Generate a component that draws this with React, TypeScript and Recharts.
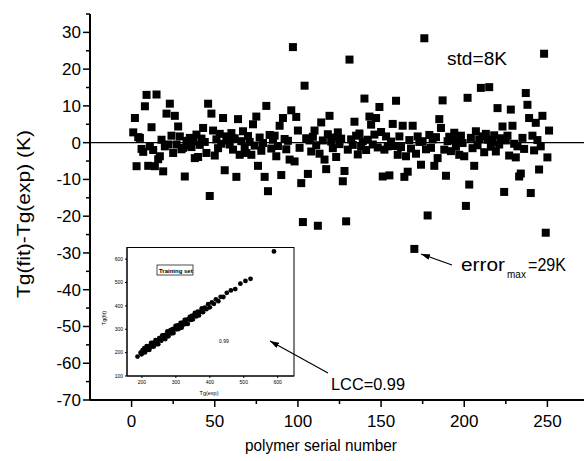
import { ScatterChart, Scatter, XAxis, YAxis, ReferenceLine } from 'recharts';

// deviation Tg(fit)-Tg(exp) in K, polymer serial 1..251
const deviations = [
  2.8, 6.7, -6.4, 1.5, 1.3, -1.7, -2.5, 9.9, 13, -6.3,
  -1, 4.2, -2, -6.4, 13.1, -4.5, -3.7, 0.8, -7.8, -1,
  7.9, -0.5, 10.6, 1.9, -2.8, 7.3, -0.5, 4.4, 1.7, -1.8,
  -1.4, -9.2, 0.5, -0.8, 1.3, -1.2, 0.3, -4.2, 2.2, -3.9,
  -0.6, 1.1, 4, 0.2, -2.8, 10.6, -14.5, 7.9, 3.3, -3.5,
  0.9, -1.5, 2.4, -0.3, 6.7, -7.5, 1.7, 0.6, -0.5, 2.6,
  -1.9, 1.2, -9.3, 6.4, -3.3, 0.4, 3.1, -1.3, -2.8, 1.8,
  0.2, -3.3, 5, -0.8, 7.1, -6.3, 1.4, -2.2, -0.1, -9.3,
  10, -13.2, 2.1, -1.6, 0.8, 1.9, -3.7, -0.9, 4.6, -8.8,
  6.7, 1, -1.8, 0.5, -4.6, 8.8, 26, -5.1, 7, 3.3,
  -1.4, -11, -21.6, 15.5, 1.2, -8.5, 0.6, -2.4, 1.6, 3.3,
  -0.7, -22.6, -3, 5.5, 0.6, -4.6, -7.2, 2.3, 7.3, 0.3,
  -1.5, 1.4, -3.9, 2.8, -0.4, 1.1, -10.5, -7.7, -21.4, -1.9,
  22.6, 0.9, -0.6, 5.7, 1.9, -3.2, 2.5, -1.1, 0.4, 12,
  -2, 0.8, 7.1, 4.9, -0.5, 2.2, 6.7, -1.3, 9.7, 2.9,
  -9.2, -1.9, 1.7, -1, -8.9, 0.3, 5.1, -0.9, 11.4, -3.3,
  1.7, -1.2, 4.6, -9.3, -3.7, -7.9, 0.7, -1.6, 4.6, -28.9,
  -3, 1.7, 0.2, -6, 0.4, 28.4, -1.8, -19.8, 2.1, -1.4,
  0.9, -6.3, 1.5, -4.2, 6.4, 4, 11.5, -1.9, -9, 0.4,
  1.6, -2.3, 0.8, 2.7, -1.1, 0.5, -3.3, 1.9, -0.1, -3.7,
  -17.2, 12.2, -11.4, 1.3, -1.5, -6.3, 3.1, -0.7, 0.9, 14.9,
  1.7, -2.6, 2.4, 0.8, 15.1, -1.1, 0.3, 2, -2.4, 9.4,
  -0.5, 1.2, 4.4, -13.4, 0.6, 1.9, -3.5, 9, 4.6, -0.3,
  -4, -1, -9.2, -8.4, 1.3, -1.7, 13.5, 10.3, 6.7, -13.7,
  1.9, -2.1, 5.4, 0.7, -7.3, -1, 7.3, 24.2, -24.5, -4,
  3.3,
];

const xTicks = [0, 25, 50, 75, 100, 125, 150, 175, 200, 225, 250];
const yTicks = [-70, -65, -60, -55, -50, -45, -40, -35, -30, -25, -20, -15, -10, -5, 0, 5, 10, 15, 20, 25, 30, 35];

// inset: training set Tg(exp) vs Tg(fit)
const insetExp = [
  187, 196, 199, 202, 204, 207, 209, 212, 214, 217,
  219, 222, 224, 227, 229, 232, 235, 237, 240, 243,
  245, 248, 251, 254, 257, 260, 263, 266, 269, 272,
  275, 278, 281, 284, 287, 290, 293, 296, 299, 302,
  305, 308, 311, 314, 317, 320, 323, 326, 329, 332,
  335, 338, 341, 344, 347, 350, 353, 356, 360, 364,
  368, 372, 376, 380, 385, 390, 395, 400, 406, 412,
  418, 425, 432, 440, 450, 462, 475, 490, 505, 520,
  589,
];
const insetFit = [
  183, 200, 193, 211, 202, 219, 201, 215, 228, 212,
  227, 212, 230, 242, 226, 242, 226, 241, 253, 236,
  252, 236, 262, 256, 251, 274, 259, 275, 258, 277,
  291, 270, 284, 296, 282, 300, 284, 303, 314, 300,
  316, 301, 315, 327, 307, 328, 320, 340, 323, 341,
  323, 343, 353, 340, 357, 342, 359, 370, 355, 375,
  359, 375, 389, 373, 393, 386, 407, 394, 415, 409,
  428, 420, 439, 438, 456, 466, 472, 495, 507, 516,
  633,
];
const insetXTicks = [200, 300, 400, 500, 600];
const insetYTicks = [100, 200, 300, 400, 500, 600];

const points = deviations.map((v, i) => ({ x: i + 1, y: v }));
const insetPoints = insetExp.map((v, i) => ({ x: v, y: insetFit[i] }));

const FONT = '"Liberation Sans", Arial, sans-serif';

const YTick = ({ x, y, payload }: any) => {
  const major = payload.value % 10 === 0;
  return (
    <g>
      <line x1={x} x2={x - (major ? 7 : 4)} y1={y} y2={y} stroke="#000" strokeWidth={1.5} />
      {major && payload.value <= 30 && (
        <text x={x - 9} y={y} dy={6} textAnchor="end" fontSize={17} fontFamily={FONT} fill="#000">
          {payload.value}
        </text>
      )}
    </g>
  );
};

const XTick = ({ x, y, payload }: any) => {
  const major = payload.value % 50 === 0;
  return (
    <g>
      <line x1={x} x2={x} y1={y} y2={y + (major ? 7 : 4)} stroke="#000" strokeWidth={1.5} />
      {major && (
        <text x={x} y={y + 27} textAnchor="middle" fontSize={17} fontFamily={FONT} fill="#000">
          {payload.value}
        </text>
      )}
    </g>
  );
};

export default function App() {
  return (
    <div style={{ position: 'absolute', left: 0, top: 0, width: 584, height: 461, background: '#fff' }}>
      <ScatterChart width={584} height={461} margin={{ top: 14, right: 0, bottom: 0, left: 0 }}>
        <XAxis
          type="number"
          dataKey="x"
          domain={[-25, 272]}
          allowDataOverflow
          ticks={xTicks}
          interval={0}
          height={61}
          tickSize={0}
          tickMargin={0}
          tickLine={false}
          tick={<XTick />}
          axisLine={{ stroke: '#000', strokeWidth: 2 }}
        />
        <YAxis
          type="number"
          dataKey="y"
          domain={[-70, 35]}
          allowDataOverflow
          ticks={yTicks}
          interval={0}
          width={90}
          tickSize={0}
          tickMargin={0}
          tickLine={false}
          tick={<YTick />}
          axisLine={{ stroke: '#000', strokeWidth: 2 }}
        />
        <ReferenceLine y={0} stroke="#000" strokeWidth={1.3} />
        <Scatter
          data={points}
          isAnimationActive={false}
          shape={(p: any) => <rect x={p.cx - 4} y={p.cy - 4} width={8} height={8} fill="#000" />}
        />
      </ScatterChart>

      <div style={{ position: 'absolute', left: 95, top: 240 }}>
        <ScatterChart width={205} height={160} margin={{ top: 7, right: 6, bottom: 0, left: 0 }}>
          <XAxis
            type="number"
            dataKey="x"
            domain={[156, 648]}
            allowDataOverflow
            ticks={insetXTicks}
            interval={0}
            height={24}
            tickSize={2}
            tickMargin={2}
            tick={{ fontSize: 5, fill: '#000', fontFamily: FONT }}
            tickLine={{ stroke: '#000' }}
            axisLine={{ stroke: '#000' }}
          />
          <YAxis
            type="number"
            dataKey="y"
            domain={[100, 652]}
            allowDataOverflow
            ticks={insetYTicks}
            interval={0}
            width={32}
            tickSize={2}
            tickMargin={2}
            tick={{ fontSize: 5, fill: '#000', fontFamily: FONT }}
            tickLine={{ stroke: '#000' }}
            axisLine={{ stroke: '#000' }}
          />
          <Scatter
            data={insetPoints}
            isAnimationActive={false}
            shape={(p: any) => <circle cx={p.cx} cy={p.cy} r={2.4} fill="#000" />}
          />
        </ScatterChart>
      </div>

      <svg width={584} height={461} style={{ position: 'absolute', left: 0, top: 0, pointerEvents: 'none' }}>
        <defs>
          <marker id="ah" markerWidth={9} markerHeight={6} refX={9} refY={3} orient="auto" markerUnits="userSpaceOnUse">
            <path d="M0,0 L9,3 L0,6 z" fill="#000" />
          </marker>
        </defs>
        <g fontFamily={FONT} fill="#000">
          <text transform="translate(30,214) rotate(-90)" textAnchor="middle" fontSize={18} textLength={168} lengthAdjust="spacingAndGlyphs">
            Tg(fit)-Tg(exp) (K)
          </text>
          <text x={321} y={451} textAnchor="middle" fontSize={17} textLength={152} lengthAdjust="spacingAndGlyphs">
            polymer serial number
          </text>
          <text x={447} y={65} fontSize={18} textLength={60} lengthAdjust="spacingAndGlyphs">std=8K</text>
          <text x={461} y={271} fontSize={18} textLength={44} lengthAdjust="spacingAndGlyphs">error</text>
          <text x={507} y={278} fontSize={10}>max</text>
          <text x={528} y={271} fontSize={18} textLength={38} lengthAdjust="spacingAndGlyphs">=29K</text>
          <text x={331} y={390} fontSize={17} textLength={74} lengthAdjust="spacingAndGlyphs">LCC=0.99</text>
        </g>
        <line x1={452} y1={265} x2={421} y2={254} stroke="#000" strokeWidth={1.2} markerEnd="url(#ah)" />
        <line x1={328} y1={373} x2={270} y2={341} stroke="#000" strokeWidth={1.2} markerEnd="url(#ah)" />

        <rect x={127} y={247.5} width={167} height={128.5} fill="none" stroke="#000" strokeWidth={1} />
        <rect x={157} y={265} width={36} height={10} fill="none" stroke="#000" strokeWidth={0.7} />
        <g fontFamily={FONT} fill="#000">
          <text x={159} y={272.5} fontSize={6} fontWeight="bold">Training set</text>
          <text x={219} y={343} fontSize={5}>0.99</text>
          <text x={209} y={395} fontSize={5.5} textAnchor="middle">Tg(exp)</text>
          <text transform="translate(106,318) rotate(-90)" fontSize={5.5} textAnchor="middle">Tg(fit)</text>
        </g>
      </svg>
    </div>
  );
}
